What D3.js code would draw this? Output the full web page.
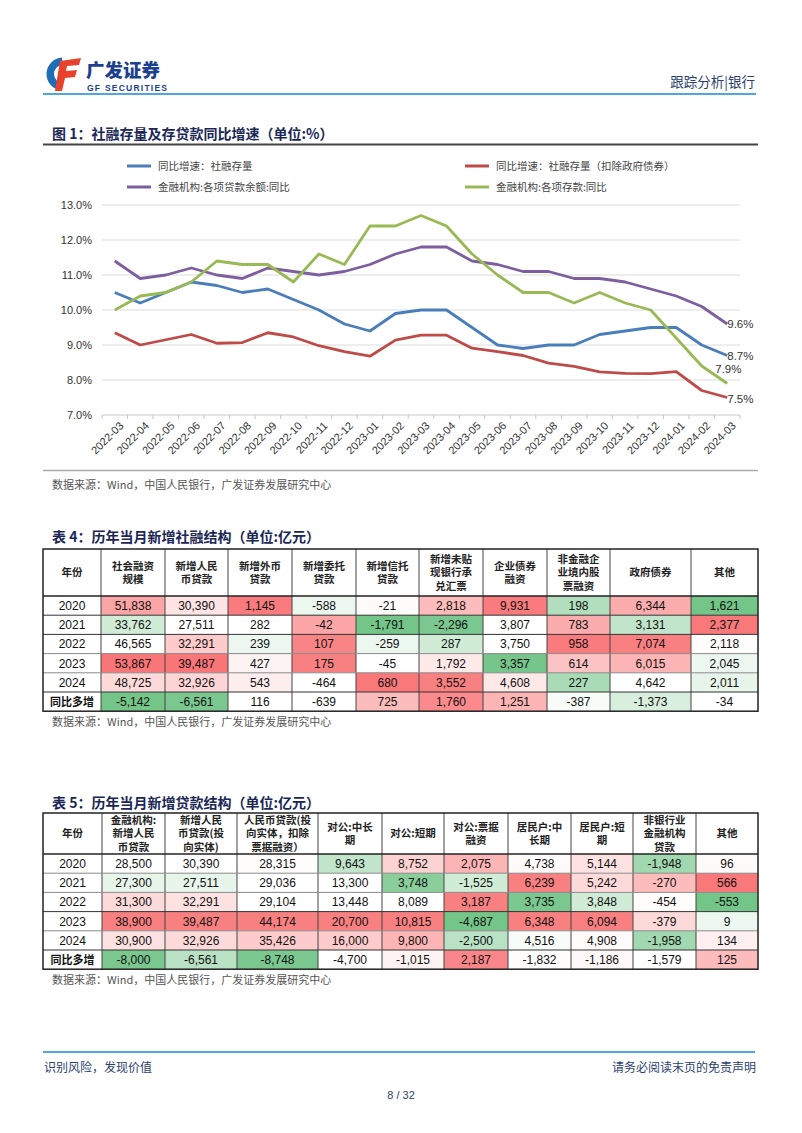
<!DOCTYPE html>
<html><head><meta charset="utf-8">
<script src="https://cdn.jsdelivr.net/npm/d3@7"></script>
<style>body{margin:0;background:#fff;} svg{display:block;}</style>
</head><body>
<svg id="page" width="802" height="1133"></svg>
<script>
// ---------------- DATA ----------------
const months = ['2022-03','2022-04','2022-05','2022-06','2022-07','2022-08','2022-09','2022-10','2022-11','2022-12',
  '2023-01','2023-02','2023-03','2023-04','2023-05','2023-06','2023-07','2023-08','2023-09','2023-10','2023-11','2023-12',
  '2024-01','2024-02','2024-03'];
const sfStock = [10.5,10.2,10.5,10.8,10.7,10.5,10.6,10.3,10.0,9.6,9.4,9.9,10.0,10.0,9.5,9.0,8.9,9.0,9.0,9.3,9.4,9.5,9.5,9.0,8.7];
const sfExGov = [9.35,9.0,9.15,9.3,9.05,9.07,9.35,9.23,8.98,8.81,8.68,9.14,9.28,9.28,8.91,8.81,8.7,8.48,8.39,8.23,8.19,8.18,8.24,7.7,7.5];
const loanBal = [11.4,10.9,11.0,11.2,11.0,10.9,11.2,11.1,11.0,11.1,11.3,11.6,11.8,11.8,11.4,11.3,11.1,11.1,10.9,10.9,10.8,10.6,10.4,10.1,9.6];
const deposit = [10.0,10.4,10.5,10.8,11.4,11.3,11.3,10.8,11.6,11.3,12.4,12.4,12.7,12.4,11.6,11.0,10.5,10.5,10.2,10.5,10.2,10.0,9.2,8.4,7.9];
const seriesNames = ['同比增速：社融存量','同比增速：社融存量（扣除政府债券）','金融机构:各项贷款余额:同比','金融机构:各项存款:同比'];
const yTicks = [7,8,9,10,11,12,13];

const t4Headers = [['年份'],['社会融资','规模'],['新增人民','币贷款'],['新增外币','贷款'],['新增委托','贷款'],['新增信托','贷款'],
  ['新增未贴','现银行承','兑汇票'],['企业债券','融资'],['非金融企','业境内股','票融资'],['政府债券'],['其他']];
const t4Rows = ['2020','2021','2022','2023','2024','同比多增'];
const t4Values = [
  [51838,30390,1145,-588,-21,2818,9931,198,6344,1621],
  [33762,27511,282,-42,-1791,-2296,3807,783,3131,2377],
  [46565,32291,239,107,-259,287,3750,958,7074,2118],
  [53867,39487,427,175,-45,1792,3357,614,6015,2045],
  [48725,32926,543,-464,680,3552,4608,227,4642,2011],
  [-5142,-6561,116,-639,725,1760,1251,-387,-1373,-34]];
// heat level (-1 green … 0 white … 1 red)
const t4Heat = [
  [0.6,0.18,0.88,-0.12,0.03,0.45,0.88,-0.5,0.55,-0.9],
  [-0.3,0,0,0.6,-0.9,-0.85,0,0.55,-0.4,0.9],
  [0,0.35,-0.12,0.82,-0.12,-0.3,0,0.88,0.85,0.02],
  [0.92,0.92,0.08,0.85,0,0.15,-0.88,0.4,0.5,-0.12],
  [0.25,0.28,0.12,0,0.9,0.85,0.15,-0.55,0,-0.15],
  [-0.9,-0.85,0,0,0.45,0.78,0.5,-0.05,-0.25,0]];

const t5Headers = [['年份'],['金融机构:','新增人民','币贷款'],['新增人民','币贷款(投','向实体)'],['人民币贷款(投','向实体，扣除','票据融资）'],
  ['对公:中长','期'],['对公:短期'],['对公:票据','融资'],['居民户:中','长期'],['居民户:短','期'],['非银行业','金融机构','贷款'],['其他']];
const t5Rows = ['2020','2021','2022','2023','2024','同比多增'];
const t5Values = [
  [28500,30390,28315,9643,8752,2075,4738,5144,-1948,96],
  [27300,27511,29036,13300,3748,-1525,6239,5242,-270,566],
  [31300,32291,29104,13448,8089,3187,3735,3848,-454,-553],
  [38900,39487,44174,20700,10815,-4687,6348,6094,-379,9],
  [30900,32926,35426,16000,9800,-2500,4516,4908,-1958,134],
  [-8000,-6561,-8748,-4700,-1015,2187,-1832,-1186,-1579,125]];
const t5Heat = [
  [0,0,0.02,-0.4,0.3,0.5,0.03,0.2,-0.6,0.03],
  [-0.15,-0.15,0,0,-0.75,-0.3,0.85,0.25,0.45,0.9],
  [0.25,0.2,0,0,0,0.85,-0.85,-0.3,0.02,-0.9],
  [0.85,0.85,0.85,0.85,0.85,-0.9,0.85,0.85,0.25,-0.12],
  [0.2,0.25,0.35,0.35,0.5,-0.45,-0.05,0.03,-0.6,0.1],
  [-0.85,-0.45,-0.85,0,0.08,0.8,0.02,0.05,0,0.45]];

// ---------------- DRAW ----------------
const svg = d3.select('#page');
svg.append('rect').attr('width',802).attr('height',1133).attr('fill','#fff');
const CJK = '"Noto Sans CJK SC","Noto Sans",sans-serif';
const LAT = '"Liberation Sans",Arial,"Noto Sans CJK SC",sans-serif';
const navy = '#1b2756';

// Header
const logo = svg.append('g');
logo.append('path').attr('transform','translate(63,74)')
  .attr('d', d3.arc().innerRadius(9).outerRadius(16.5).startAngle(Math.PI*1.02).endAngle(Math.PI*1.98)())
  .attr('fill','#1f6db5');
logo.append('path').attr('d','M60,61 L81,58 L79,65 L67,66 L66,71 L77,70 L75,77 L65,78 L62,91 L55,91 Z').attr('fill','#e8412c');
svg.append('text').attr('x',86).attr('y',77).text('广发证券')
  .attr('font-family',CJK).attr('font-weight',900).attr('font-size',18.5).attr('fill','#1d3f8f');
svg.append('text').attr('x',87).attr('y',91).text('GF SECURITIES')
  .attr('font-family',LAT).attr('font-weight',700).attr('font-size',8.5).attr('fill','#1d3f8f').attr('textLength',80);
svg.append('text').attr('x',755).attr('y',87).attr('text-anchor','end').text('跟踪分析|银行')
  .attr('font-family',CJK).attr('font-size',13.5).attr('fill','#2b3f72');
svg.append('line').attr('x1',43).attr('x2',756).attr('y1',94).attr('y2',94).attr('stroke','#4ea9d6').attr('stroke-width',2);

// Chart title
function sectionTitle(y, txt){
  svg.append('text').attr('x',52).attr('y',y).text(txt)
    .attr('font-family',CJK).attr('font-weight',700).attr('font-size',14).attr('fill',navy);
}
sectionTitle(139,'图 1：社融存量及存贷款同比增速（单位:%）');
svg.append('line').attr('x1',43).attr('x2',758).attr('y1',144.5).attr('y2',144.5).attr('stroke','#444').attr('stroke-width',2);

// Chart
const x = d3.scaleBand().domain(months).range([102,740]);
const y = d3.scaleLinear().domain([7,13]).range([415,205]);
const cx = m => x(m) + x.bandwidth()/2;
const chart = svg.append('g');
chart.selectAll('line.grid').data(yTicks).join('line').attr('class','grid')
  .attr('x1',102).attr('x2',740).attr('y1',d=>y(d)).attr('y2',d=>y(d))
  .attr('stroke',d=>d===7?'#c8c8c8':'#dcdcdc').attr('stroke-width',1);
chart.selectAll('text.yl').data(yTicks).join('text').attr('class','yl')
  .attr('x',92).attr('y',d=>y(d)).attr('dy','0.35em').attr('text-anchor','end')
  .text(d=>d.toFixed(1)+'%').attr('font-family',LAT).attr('font-size',11).attr('fill','#333');
const bounds = months.map(m=>x(m)).concat([x(months[months.length-1])+x.bandwidth()]);
chart.selectAll('line.tk').data(bounds).join('line').attr('class','tk')
  .attr('x1',d=>d).attr('x2',d=>d).attr('y1',415).attr('y2',419).attr('stroke','#c8c8c8');
chart.selectAll('text.xl').data(months).join('text').attr('class','xl')
  .attr('transform',d=>`translate(${cx(d)+4},${421}) rotate(-45)`)
  .attr('text-anchor','end').attr('dy','0.7em').text(d=>d)
  .attr('font-family',LAT).attr('font-size',11).attr('fill','#333');

const series = [
  {name:seriesNames[0], vals:sfStock, color:'#4a7ebb'},
  {name:seriesNames[1], vals:sfExGov, color:'#be4b48'},
  {name:seriesNames[2], vals:loanBal, color:'#7d5fa0'},
  {name:seriesNames[3], vals:deposit, color:'#98b954'}];
const line = d3.line().x((d,i)=>cx(months[i])).y(d=>y(d));
[series[1],series[0],series[2],series[3]].forEach(s=>{
  chart.append('path').attr('d',line(s.vals)).attr('fill','none')
    .attr('stroke',s.color).attr('stroke-width',2.8).attr('stroke-linejoin','round');
});
// end labels
const last = months.length-1;
const endLab = [
  {v:loanBal[last], dx:0, dy:0},
  {v:sfStock[last], dx:0, dy:0},
  {v:deposit[last], dx:-12, dy:-15},
  {v:sfExGov[last], dx:0, dy:1}];
chart.selectAll('text.el').data(endLab).join('text').attr('class','el')
  .attr('x',d=>cx(months[last])+d.dx).attr('y',d=>y(d.v)+d.dy).attr('dy','0.35em')
  .text(d=>d.v.toFixed(1)+'%').attr('font-family',LAT).attr('font-size',11.5).attr('fill','#333');

// legend
const leg = chart.selectAll('g.leg').data(series).join('g').attr('class','leg')
  .attr('transform',(d,i)=>`translate(${i%2===0?127:465},${i<2?166:187})`);
leg.append('line').attr('x1',0).attr('x2',24).attr('stroke',d=>d.color).attr('stroke-width',3);
leg.append('text').attr('x',31).attr('dy','0.35em').text(d=>d.name)
  .attr('font-family',CJK).attr('font-size',10.5).attr('fill','#444');

svg.append('line').attr('x1',43).attr('x2',758).attr('y1',470.5).attr('y2',470.5).attr('stroke','#aaa').attr('stroke-width',1.5);
function source(yy){
  svg.append('text').attr('x',52).attr('y',yy).attr('dy','0.35em')
    .text('数据来源：Wind，中国人民银行，广发证券发展研究中心')
    .attr('font-family',CJK).attr('font-size',11).attr('fill','#555');
}
source(485);

// Tables
const heatColor = d3.scaleLinear().domain([-1,0,1]).range(['#63be7b','#ffffff','#f8696b']).clamp(true);
const fmt = d3.formatLocale({decimal:'.', thousands:',', grouping:[3], currency:['',''], minus:'-'}).format(',');
function drawTable(opt){
  const g = svg.append('g');
  const {top, headerH, rowH, colX, headers, rows, values, heat} = opt;
  const nR = rows.length;
  const bottom = top + headerH + rowH*nR;
  rows.forEach((r,ri)=>{
    const ry = top + headerH + rowH*ri;
    values[ri].forEach((v,ci)=>{
      g.append('rect').attr('x',colX[ci+1]).attr('y',ry).attr('width',colX[ci+2]-colX[ci+1]).attr('height',rowH)
        .attr('fill',heatColor(heat[ri][ci]));
      g.append('text').attr('x',(colX[ci+1]+colX[ci+2])/2).attr('y',ry+rowH/2).attr('dy','0.36em')
        .attr('text-anchor','middle').text(fmt(v)).attr('font-family',LAT).attr('font-size',12).attr('fill','#111');
    });
    const isCJK = /[^\d]/.test(r);
    g.append('text').attr('x',(colX[0]+colX[1])/2).attr('y',ry+rowH/2).attr('dy','0.36em')
      .attr('text-anchor','middle').text(r)
      .attr('font-family',isCJK?CJK:LAT).attr('font-weight',isCJK?700:400).attr('font-size',isCJK?11:12).attr('fill','#111');
  });
  headers.forEach((h,ci)=>{
    const mx = (colX[ci]+colX[ci+1])/2;
    const lh = 13.5;
    const y0 = top + headerH/2 - (h.length-1)*lh/2;
    h.forEach((t,li)=>{
      g.append('text').attr('x',mx).attr('y',y0+li*lh).attr('dy','0.36em').attr('text-anchor','middle')
        .text(t).attr('font-family',CJK).attr('font-weight',700).attr('font-size',10.5).attr('fill','#222');
    });
  });
  colX.slice(1,-1).forEach(xx=>{
    g.append('line').attr('x1',xx).attr('x2',xx).attr('y1',top).attr('y2',bottom).attr('stroke','#444').attr('stroke-width',1);
  });
  for(let i=1;i<nR;i++){
    const yy = top+headerH+rowH*i;
    g.append('line').attr('x1',colX[0]).attr('x2',colX[colX.length-1]).attr('y1',yy).attr('y2',yy)
      .attr('stroke',opt.darkRows.includes(i)?'#333':'#8a8a8a').attr('stroke-width',1);
  }
  g.append('line').attr('x1',colX[0]).attr('x2',colX[colX.length-1]).attr('y1',top+headerH).attr('y2',top+headerH)
    .attr('stroke','#222').attr('stroke-width',1.5);
  g.append('rect').attr('x',colX[0]).attr('y',top).attr('width',colX[colX.length-1]-colX[0]).attr('height',bottom-top)
    .attr('fill','none').attr('stroke','#222').attr('stroke-width',1.5);
}

sectionTitle(542,'表 4：历年当月新增社融结构（单位:亿元）');
drawTable({top:549, headerH:47, rowH:19.2, colX:[43,101,165,228,292,356,419,483,547,610,691,758],
  headers:t4Headers, rows:t4Rows, values:t4Values, heat:t4Heat, darkRows:[1,2,5]});
source(722);

sectionTitle(808,'表 5：历年当月新增贷款结构（单位:亿元）');
drawTable({top:813, headerH:41, rowH:19.2, colX:[43,102,165,237,318,382,444,508,571,633,696,758],
  headers:t5Headers, rows:t5Rows, values:t5Values, heat:t5Heat, darkRows:[3,5]});
source(980);

// Footer
svg.append('line').attr('x1',43).attr('x2',755).attr('y1',1052).attr('y2',1052).attr('stroke','#4ea9d6').attr('stroke-width',2);
svg.append('text').attr('x',44).attr('y',1068).attr('dy','0.35em').text('识别风险，发现价值')
  .attr('font-family',CJK).attr('font-size',12).attr('fill','#2b3f72');
svg.append('text').attr('x',756).attr('y',1068).attr('dy','0.35em').attr('text-anchor','end').text('请务必阅读末页的免责声明')
  .attr('font-family',CJK).attr('font-size',12).attr('fill','#2b3f72');
svg.append('text').attr('x',401).attr('y',1095).attr('dy','0.35em').attr('text-anchor','middle').text('8 / 32')
  .attr('font-family',LAT).attr('font-size',11).attr('fill','#2b3f72');
</script>
</body></html>
